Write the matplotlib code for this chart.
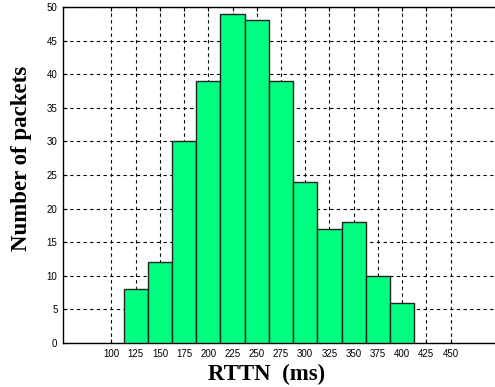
import matplotlib
matplotlib.use("Agg")
import matplotlib.pyplot as plt

# histogram bins (centres, ms) and packet counts
bin_centers = [125, 150, 175, 200, 225, 250, 275, 300, 325, 350, 375, 400]
counts = [8, 12, 30, 39, 49, 48, 39, 24, 17, 18, 10, 6]
x_ticks = [100, 125, 150, 175, 200, 225, 250, 275, 300, 325, 350, 375, 400, 425, 450]
y_ticks = [0, 5, 10, 15, 20, 25, 30, 35, 40, 45, 50]

fig = plt.figure(figsize=(4.95, 3.87), dpi=100)
ax = fig.add_axes([63 / 495, 1 - 343 / 387, 436 / 495, 336 / 387])

ax.bar(bin_centers, counts, width=25, color="#00ff80", edgecolor="#222222",
       linewidth=1.0, zorder=3)

ax.set_xlim(50, 500)
ax.set_ylim(0, 50)
ax.set_xticks(x_ticks)
ax.set_yticks(y_ticks)
ax.grid(True, color="black", linestyle=(0, (3, 3)), linewidth=0.8, zorder=1)
ax.set_axisbelow(True)

ax.tick_params(direction="in", length=3, width=0.8, top=True, right=True,
               labelsize=7, pad=4)
for lab in ax.get_xticklabels() + ax.get_yticklabels():
    lab.set_family("Liberation Sans")

for sp in ax.spines.values():
    sp.set_linewidth(1.0)

ax.set_xlabel("RTTN  (ms)", family="Liberation Serif", fontweight="bold",
              fontsize=16.5)
ax.set_ylabel("Number of packets", family="Liberation Serif", fontweight="bold",
              fontsize=16.5)
ax.xaxis.set_label_coords(0.468, -0.062)
ax.yaxis.set_label_coords(-0.072, 0.55)

fig.savefig("out.png", dpi=100)
